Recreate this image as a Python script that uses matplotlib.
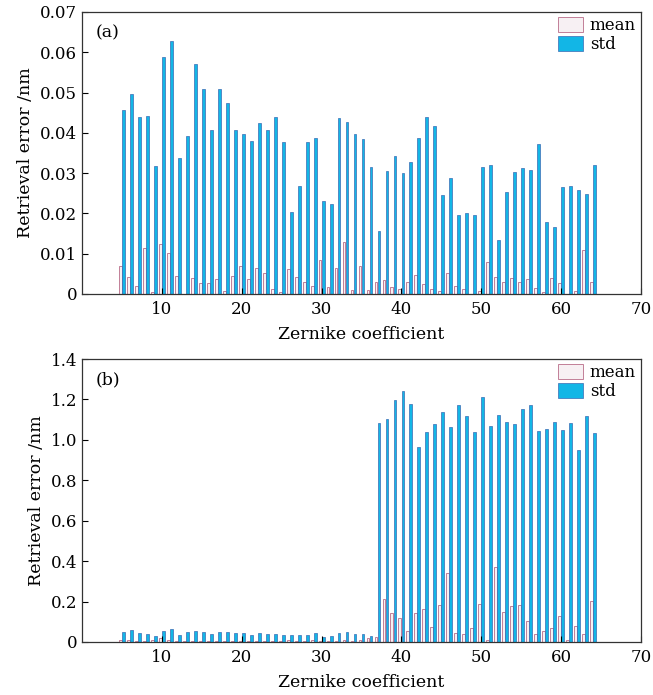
import matplotlib
matplotlib.use("Agg")
import matplotlib.pyplot as plt
import numpy as np

coefficients = list(range(5, 65))

# panel (a)
mean_a = [0.0070, 0.0041, 0.0020, 0.0113, 0.0005, 0.0123, 0.0102, 0.0045, 0.0001, 0.0039,
          0.0027, 0.0027, 0.0038, 0.0007, 0.0045, 0.0069, 0.0036, 0.0065, 0.0052, 0.0013,
          0.0006, 0.0061, 0.0042, 0.0029, 0.0020, 0.0084, 0.0018, 0.0065, 0.0128, 0.0011,
          0.0070, 0.0010, 0.0031, 0.0035, 0.0018, 0.0013, 0.0029, 0.0047, 0.0024, 0.0013,
          0.0007, 0.0053, 0.0020, 0.0012, 0.0001, 0.0007, 0.0080, 0.0041, 0.0031, 0.0039,
          0.0029, 0.0036, 0.0015, 0.0005, 0.0039, 0.0028, 0.0001, 0.0007, 0.0108, 0.0031]
std_a = [0.0457, 0.0497, 0.0439, 0.0443, 0.0318, 0.0589, 0.0627, 0.0338, 0.0391, 0.0571,
         0.0510, 0.0407, 0.0510, 0.0474, 0.0406, 0.0396, 0.0379, 0.0425, 0.0406, 0.0439,
         0.0377, 0.0203, 0.0268, 0.0377, 0.0387, 0.0231, 0.0223, 0.0437, 0.0428, 0.0396,
         0.0384, 0.0315, 0.0156, 0.0306, 0.0342, 0.0300, 0.0328, 0.0387, 0.0440, 0.0418,
         0.0245, 0.0287, 0.0196, 0.0201, 0.0195, 0.0315, 0.0321, 0.0133, 0.0252, 0.0303,
         0.0314, 0.0308, 0.0372, 0.0179, 0.0166, 0.0266, 0.0268, 0.0257, 0.0249, 0.0319]

# panel (b)
mean_b = [0.008, 0.012, 0.004, 0.006, 0.010, 0.018, 0.008, 0.004, 0.006, 0.004,
          0.005, 0.004, 0.006, 0.004, 0.006, 0.005, 0.004, 0.006, 0.004, 0.006,
          0.005, 0.010, 0.004, 0.006, 0.010, 0.004, 0.006, 0.006, 0.008, 0.004,
          0.010, 0.022, 0.026, 0.214, 0.143, 0.117, 0.054, 0.142, 0.162, 0.076,
          0.183, 0.341, 0.045, 0.040, 0.069, 0.186, 0.008, 0.369, 0.148, 0.178,
          0.185, 0.106, 0.040, 0.053, 0.069, 0.129, 0.010, 0.077, 0.041, 0.203]
std_b = [0.051, 0.058, 0.043, 0.041, 0.031, 0.054, 0.064, 0.036, 0.049, 0.054,
         0.049, 0.041, 0.049, 0.048, 0.043, 0.043, 0.036, 0.043, 0.041, 0.041,
         0.035, 0.035, 0.035, 0.035, 0.043, 0.025, 0.031, 0.043, 0.048, 0.040,
         0.040, 0.030, 1.082, 1.103, 1.199, 1.243, 1.179, 0.963, 1.039, 1.080,
         1.139, 1.065, 1.171, 1.120, 1.040, 1.212, 1.068, 1.121, 1.090, 1.077,
         1.151, 1.171, 1.042, 1.055, 1.090, 1.050, 1.083, 0.948, 1.120, 1.036]

yticks_a = [0, 0.01, 0.02, 0.03, 0.04, 0.05, 0.06, 0.07]
ytick_labels_a = ["0", "0.01", "0.02", "0.03", "0.04", "0.05", "0.06", "0.07"]
yticks_b = [0, 0.2, 0.4, 0.6, 0.8, 1.0, 1.2, 1.4]
ytick_labels_b = ["0", "0.2", "0.4", "0.6", "0.8", "1.0", "1.2", "1.4"]
xticks = [10, 20, 30, 40, 50, 60, 70]

plt.rcParams["font.family"] = ["DejaVu Serif"]
plt.rcParams["font.size"] = 12

fig = plt.figure(figsize=(6.53, 6.95), dpi=100)
ax_a = fig.add_axes([82 / 653, 1 - 294 / 695, 559 / 653, 282 / 695])
ax_b = fig.add_axes([82 / 653, 1 - 642 / 695, 559 / 653, 283 / 695])

x = np.array(coefficients)
width = 0.36
offset = 0.19


def draw(ax, mean, std, yticks, ylabels, tag):
    ax.bar(x - offset, mean, width, facecolor="#f7f0f3", edgecolor="#c27f98",
           linewidth=0.7, label="mean")
    ax.bar(x + offset, std, width, facecolor="#12b6e6", edgecolor="#3a6ab4",
           linewidth=0.5, label="std")
    ax.set_xlim(0, 70)
    ax.set_ylim(yticks[0], yticks[-1])
    ax.set_xticks(xticks)
    ax.set_yticks(yticks)
    ax.set_yticklabels(ylabels)
    ax.tick_params(direction="in", length=4, top=False, right=False, labelsize=12)
    ax.tick_params(axis="x", pad=5)
    ax.set_xlabel("Zernike coefficient", fontsize=12.5, labelpad=6)
    ax.set_ylabel("Retrieval error /nm", fontsize=12.5, labelpad=4)
    ax.text(0.025, 0.955, tag, transform=ax.transAxes, fontsize=12.5,
            ha="left", va="top")
    ax.legend(loc="upper right", frameon=False, fontsize=12,
              handlelength=1.5, handleheight=1.0, borderaxespad=0.1,
              borderpad=0.2, labelspacing=0.1, handletextpad=0.4)
    for spine in ax.spines.values():
        spine.set_linewidth(0.9)
        spine.set_color("#333333")


draw(ax_a, mean_a, std_a, yticks_a, ytick_labels_a, "(a)")
draw(ax_b, mean_b, std_b, yticks_b, ytick_labels_b, "(b)")

fig.savefig("out.png", dpi=100)
